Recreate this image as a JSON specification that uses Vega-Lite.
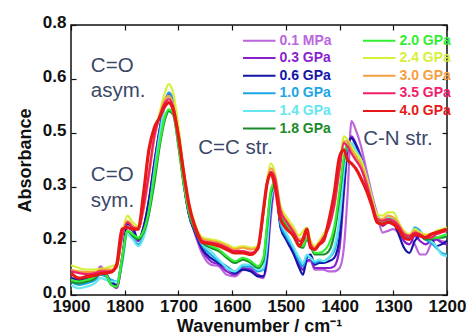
{
  "$schema": "https://vega.github.io/schema/vega-lite/v6.json",
  "width": 376,
  "height": 270,
  "autosize": "none",
  "padding": {"left": 71, "top": 25, "right": 19, "bottom": 41},
  "background": "white",
  "config": {
    "view": {"stroke": "#111111", "strokeWidth": 1.5},
    "font": "Liberation Sans",
    "axis": {
      "grid": false, "domain": false, "tickColor": "#111111", "tickSize": -5, "tickWidth": 1.2,
      "labelFlush": false, "labelOverlap": false, "labelBound": false,
      "labelFont": "Liberation Sans", "labelFontWeight": "bold", "labelFontSize": 17, "labelColor": "#111111",
      "titleFont": "Liberation Sans", "titleFontWeight": "bold", "titleFontSize": 18, "titleColor": "#111111"
    }
  },
  "data": {"values": [
    {"w":1900,"a":0.050,"b":0.045,"c":0.050,"d":0.040,"e":0.030,"f":0.040,"g":0.045,"h":0.088,"i":0.075,"j":0.070,"k":0.065},
    {"w":1885,"a":0.045,"b":0.040,"c":0.045,"d":0.030,"e":0.020,"f":0.035,"g":0.040,"h":0.080,"i":0.070,"j":0.065,"k":0.050},
    {"w":1870,"a":0.050,"b":0.045,"c":0.050,"d":0.035,"e":0.025,"f":0.040,"g":0.045,"h":0.075,"i":0.068,"j":0.062,"k":0.055},
    {"w":1855,"a":0.060,"b":0.055,"c":0.060,"d":0.045,"e":0.035,"f":0.050,"g":0.055,"h":0.075,"i":0.068,"j":0.065,"k":0.058},
    {"w":1845,"a":0.085,"b":0.080,"c":0.075,"d":0.060,"e":0.050,"f":0.070,"g":0.072,"h":0.078,"i":0.075,"j":0.070,"k":0.063},
    {"w":1835,"a":0.065,"b":0.065,"c":0.060,"d":0.055,"e":0.045,"f":0.060,"g":0.062,"h":0.080,"i":0.075,"j":0.070,"k":0.065},
    {"w":1825,"a":0.035,"b":0.035,"c":0.040,"d":0.045,"e":0.040,"f":0.030,"g":0.030,"h":0.085,"i":0.075,"j":0.070,"k":0.068},
    {"w":1815,"a":0.020,"b":0.022,"c":0.030,"d":0.040,"e":0.040,"f":0.025,"g":0.025,"h":0.090,"i":0.080,"j":0.085,"k":0.090},
    {"w":1805,"a":0.100,"b":0.100,"c":0.110,"d":0.100,"e":0.090,"f":0.100,"g":0.110,"h":0.180,"i":0.170,"j":0.170,"k":0.195},
    {"w":1795,"a":0.200,"b":0.200,"c":0.210,"d":0.190,"e":0.180,"f":0.190,"g":0.190,"h":0.235,"i":0.220,"j":0.215,"k":0.200},
    {"w":1785,"a":0.190,"b":0.190,"c":0.200,"d":0.170,"e":0.165,"f":0.175,"g":0.180,"h":0.215,"i":0.205,"j":0.200,"k":0.195},
    {"w":1775,"a":0.160,"b":0.160,"c":0.165,"d":0.150,"e":0.145,"f":0.165,"g":0.170,"h":0.205,"i":0.200,"j":0.195,"k":0.195},
    {"w":1765,"a":0.200,"b":0.200,"c":0.200,"d":0.175,"e":0.170,"f":0.185,"g":0.190,"h":0.260,"i":0.250,"j":0.260,"k":0.300},
    {"w":1755,"a":0.270,"b":0.280,"c":0.280,"d":0.250,"e":0.240,"f":0.240,"g":0.250,"h":0.360,"i":0.350,"j":0.360,"k":0.430},
    {"w":1745,"a":0.380,"b":0.390,"c":0.390,"d":0.370,"e":0.360,"f":0.330,"g":0.350,"h":0.470,"i":0.460,"j":0.470,"k":0.495},
    {"w":1735,"a":0.480,"b":0.490,"c":0.490,"d":0.480,"e":0.470,"f":0.440,"g":0.450,"h":0.540,"i":0.530,"j":0.530,"k":0.525},
    {"w":1725,"a":0.570,"b":0.570,"c":0.570,"d":0.570,"e":0.560,"f":0.520,"g":0.530,"h":0.600,"i":0.580,"j":0.570,"k":0.560},
    {"w":1718,"a":0.600,"b":0.595,"c":0.590,"d":0.600,"e":0.585,"f":0.545,"g":0.550,"h":0.625,"i":0.590,"j":0.580,"k":0.570},
    {"w":1710,"a":0.580,"b":0.575,"c":0.570,"d":0.575,"e":0.565,"f":0.535,"g":0.540,"h":0.600,"i":0.565,"j":0.560,"k":0.550},
    {"w":1700,"a":0.470,"b":0.470,"c":0.460,"d":0.465,"e":0.460,"f":0.440,"g":0.445,"h":0.500,"i":0.480,"j":0.475,"k":0.470},
    {"w":1690,"a":0.330,"b":0.330,"c":0.330,"d":0.335,"e":0.335,"f":0.325,"g":0.330,"h":0.370,"i":0.360,"j":0.360,"k":0.360},
    {"w":1680,"a":0.240,"b":0.235,"c":0.235,"d":0.240,"e":0.245,"f":0.240,"g":0.245,"h":0.270,"i":0.260,"j":0.260,"k":0.265},
    {"w":1670,"a":0.185,"b":0.190,"c":0.190,"d":0.195,"e":0.200,"f":0.195,"g":0.200,"h":0.215,"i":0.210,"j":0.210,"k":0.205},
    {"w":1655,"a":0.120,"b":0.130,"c":0.135,"d":0.145,"e":0.150,"f":0.155,"g":0.160,"h":0.170,"i":0.165,"j":0.160,"k":0.155},
    {"w":1640,"a":0.090,"b":0.100,"c":0.110,"d":0.120,"e":0.130,"f":0.140,"g":0.145,"h":0.165,"i":0.160,"j":0.155,"k":0.152},
    {"w":1625,"a":0.085,"b":0.090,"c":0.095,"d":0.100,"e":0.105,"f":0.130,"g":0.135,"h":0.160,"i":0.155,"j":0.150,"k":0.145},
    {"w":1610,"a":0.060,"b":0.070,"c":0.080,"d":0.085,"e":0.080,"f":0.110,"g":0.115,"h":0.150,"i":0.145,"j":0.140,"k":0.135},
    {"w":1595,"a":0.055,"b":0.060,"c":0.065,"d":0.070,"e":0.070,"f":0.095,"g":0.100,"h":0.140,"i":0.135,"j":0.130,"k":0.125},
    {"w":1580,"a":0.075,"b":0.080,"c":0.075,"d":0.085,"e":0.090,"f":0.105,"g":0.110,"h":0.145,"i":0.140,"j":0.130,"k":0.125},
    {"w":1565,"a":0.080,"b":0.075,"c":0.070,"d":0.085,"e":0.090,"f":0.095,"g":0.100,"h":0.140,"i":0.135,"j":0.125,"k":0.120},
    {"w":1552,"a":0.055,"b":0.060,"c":0.055,"d":0.070,"e":0.075,"f":0.080,"g":0.085,"h":0.145,"i":0.140,"j":0.135,"k":0.140},
    {"w":1542,"a":0.050,"b":0.055,"c":0.055,"d":0.075,"e":0.080,"f":0.100,"g":0.110,"h":0.250,"i":0.240,"j":0.240,"k":0.250},
    {"w":1535,"a":0.100,"b":0.110,"c":0.120,"d":0.140,"e":0.150,"f":0.200,"g":0.210,"h":0.340,"i":0.330,"j":0.330,"k":0.330},
    {"w":1528,"a":0.230,"b":0.250,"c":0.270,"d":0.280,"e":0.280,"f":0.300,"g":0.310,"h":0.390,"i":0.375,"j":0.365,"k":0.360},
    {"w":1520,"a":0.320,"b":0.325,"c":0.330,"d":0.325,"e":0.320,"f":0.325,"g":0.335,"h":0.360,"i":0.350,"j":0.345,"k":0.320},
    {"w":1510,"a":0.210,"b":0.210,"c":0.200,"d":0.210,"e":0.220,"f":0.240,"g":0.245,"h":0.265,"i":0.255,"j":0.250,"k":0.225},
    {"w":1498,"a":0.160,"b":0.165,"c":0.160,"d":0.170,"e":0.180,"f":0.205,"g":0.210,"h":0.230,"i":0.220,"j":0.215,"k":0.195},
    {"w":1485,"a":0.120,"b":0.125,"c":0.120,"d":0.135,"e":0.140,"f":0.170,"g":0.175,"h":0.200,"i":0.190,"j":0.185,"k":0.175},
    {"w":1475,"a":0.090,"b":0.090,"c":0.080,"d":0.100,"e":0.110,"f":0.145,"g":0.150,"h":0.175,"i":0.165,"j":0.160,"k":0.145},
    {"w":1468,"a":0.075,"b":0.075,"c":0.060,"d":0.085,"e":0.095,"f":0.140,"g":0.145,"h":0.190,"i":0.170,"j":0.160,"k":0.165},
    {"w":1461,"a":0.100,"b":0.100,"c":0.110,"d":0.115,"e":0.120,"f":0.165,"g":0.170,"h":0.200,"i":0.190,"j":0.185,"k":0.195},
    {"w":1454,"a":0.100,"b":0.105,"c":0.120,"d":0.110,"e":0.110,"f":0.145,"g":0.150,"h":0.160,"i":0.155,"j":0.150,"k":0.140},
    {"w":1446,"a":0.075,"b":0.080,"c":0.090,"d":0.095,"e":0.100,"f":0.120,"g":0.125,"h":0.145,"i":0.140,"j":0.135,"k":0.135},
    {"w":1438,"a":0.075,"b":0.080,"c":0.095,"d":0.100,"e":0.105,"f":0.120,"g":0.125,"h":0.160,"i":0.155,"j":0.150,"k":0.150},
    {"w":1430,"a":0.075,"b":0.080,"c":0.095,"d":0.100,"e":0.100,"f":0.120,"g":0.130,"h":0.180,"i":0.170,"j":0.170,"k":0.160},
    {"w":1420,"a":0.070,"b":0.080,"c":0.100,"d":0.110,"e":0.110,"f":0.130,"g":0.150,"h":0.210,"i":0.200,"j":0.200,"k":0.220},
    {"w":1410,"a":0.070,"b":0.085,"c":0.110,"d":0.130,"e":0.140,"f":0.180,"g":0.200,"h":0.270,"i":0.260,"j":0.265,"k":0.300},
    {"w":1400,"a":0.080,"b":0.140,"c":0.170,"d":0.220,"e":0.230,"f":0.290,"g":0.310,"h":0.380,"i":0.370,"j":0.375,"k":0.410},
    {"w":1392,"a":0.140,"b":0.300,"c":0.320,"d":0.360,"e":0.370,"f":0.400,"g":0.410,"h":0.470,"i":0.455,"j":0.450,"k":0.430},
    {"w":1385,"a":0.300,"b":0.430,"c":0.440,"d":0.440,"e":0.445,"f":0.440,"g":0.450,"h":0.460,"i":0.455,"j":0.440,"k":0.400},
    {"w":1378,"a":0.515,"b":0.470,"c":0.465,"d":0.450,"e":0.450,"f":0.430,"g":0.430,"h":0.440,"i":0.430,"j":0.420,"k":0.390},
    {"w":1370,"a":0.490,"b":0.450,"c":0.445,"d":0.430,"e":0.430,"f":0.410,"g":0.410,"h":0.420,"i":0.410,"j":0.400,"k":0.375},
    {"w":1360,"a":0.440,"b":0.410,"c":0.400,"d":0.400,"e":0.400,"f":0.380,"g":0.380,"h":0.400,"i":0.385,"j":0.375,"k":0.345},
    {"w":1350,"a":0.370,"b":0.350,"c":0.345,"d":0.350,"e":0.350,"f":0.330,"g":0.335,"h":0.350,"i":0.340,"j":0.330,"k":0.310},
    {"w":1340,"a":0.300,"b":0.290,"c":0.280,"d":0.290,"e":0.290,"f":0.270,"g":0.275,"h":0.290,"i":0.280,"j":0.275,"k":0.265},
    {"w":1330,"a":0.240,"b":0.235,"c":0.225,"d":0.235,"e":0.235,"f":0.220,"g":0.225,"h":0.240,"i":0.230,"j":0.225,"k":0.215},
    {"w":1320,"a":0.185,"b":0.205,"c":0.210,"d":0.220,"e":0.220,"f":0.210,"g":0.215,"h":0.235,"i":0.225,"j":0.220,"k":0.210},
    {"w":1310,"a":0.190,"b":0.215,"c":0.220,"d":0.225,"e":0.230,"f":0.215,"g":0.225,"h":0.245,"i":0.235,"j":0.225,"k":0.215},
    {"w":1300,"a":0.195,"b":0.210,"c":0.215,"d":0.220,"e":0.225,"f":0.210,"g":0.220,"h":0.245,"i":0.230,"j":0.220,"k":0.210},
    {"w":1290,"a":0.185,"b":0.190,"c":0.180,"d":0.200,"e":0.205,"f":0.195,"g":0.200,"h":0.215,"i":0.210,"j":0.205,"k":0.195},
    {"w":1280,"a":0.170,"b":0.160,"c":0.140,"d":0.175,"e":0.180,"f":0.180,"g":0.180,"h":0.190,"i":0.185,"j":0.180,"k":0.170},
    {"w":1270,"a":0.170,"b":0.150,"c":0.125,"d":0.170,"e":0.175,"f":0.175,"g":0.175,"h":0.180,"i":0.175,"j":0.175,"k":0.165},
    {"w":1260,"a":0.150,"b":0.175,"c":0.160,"d":0.200,"e":0.195,"f":0.190,"g":0.185,"h":0.195,"i":0.190,"j":0.185,"k":0.180},
    {"w":1250,"a":0.120,"b":0.160,"c":0.175,"d":0.190,"e":0.185,"f":0.180,"g":0.180,"h":0.185,"i":0.180,"j":0.180,"k":0.175},
    {"w":1240,"a":0.120,"b":0.150,"c":0.165,"d":0.165,"e":0.170,"f":0.165,"g":0.170,"h":0.180,"i":0.175,"j":0.170,"k":0.170},
    {"w":1230,"a":0.150,"b":0.160,"c":0.165,"d":0.155,"e":0.160,"f":0.165,"g":0.170,"h":0.180,"i":0.175,"j":0.170,"k":0.180},
    {"w":1220,"a":0.165,"b":0.165,"c":0.145,"d":0.140,"e":0.145,"f":0.170,"g":0.170,"h":0.190,"i":0.185,"j":0.180,"k":0.185},
    {"w":1210,"a":0.160,"b":0.155,"c":0.150,"d":0.125,"e":0.120,"f":0.170,"g":0.175,"h":0.195,"i":0.190,"j":0.185,"k":0.190},
    {"w":1200,"a":0.155,"b":0.150,"c":0.160,"d":0.120,"e":0.115,"f":0.175,"g":0.180,"h":0.200,"i":0.195,"j":0.190,"k":0.195}
  ]},
  "layer": [
    {
      "transform": [
        {"fold": ["a","b","c","d","e","f","g","h","i","j","k"], "as": ["key","abs"]},
        {"filter": "datum.key !== 'k'"}
      ],
      "mark": {"type": "line", "interpolate": "monotone", "strokeWidth": 2.2, "clip": true},
      "encoding": {
        "x": {"field": "w", "type": "quantitative", "scale": {"domain": [1200, 1900], "reverse": true, "nice": false, "zero": false},
              "axis": {"orient": "bottom", "values": [1900,1800,1700,1600,1500,1400,1300,1200], "format": "d", "labelPadding": 8, "title": "Wavenumber / cm\u207b\u00b9", "titlePadding": 3}},
        "y": {"field": "abs", "type": "quantitative", "scale": {"domain": [0, 0.8], "nice": false, "zero": false},
              "axis": {"orient": "left", "values": [0,0.16,0.32,0.48,0.64,0.8], "format": ".1f", "labelPadding": 10, "labelOffset": -3, "title": "Absorbance", "titlePadding": 8}},
        "color": {"field": "key", "type": "nominal",
          "scale": {"domain": ["a","b","c","d","e","f","g","h","i","j","k"],
                    "range": ["#bb66dd","#8a1fd0","#1414a8","#1aa6e6","#66e6f0","#1a8a2a","#33ee33","#d6f03a","#f5a040","#f0206a","#e81818"]},
          "legend": {"orient": "none", "legendX": 180.75, "legendY": 8, "columns": 2, "title": null, "padding": 0,
                     "symbolType": "M-2.5,0H2.5", "symbolSize": 169, "symbolStrokeWidth": 2,
                     "labelFont": "Liberation Sans", "labelFontWeight": "bold", "labelFontSize": 14, "labelOffset": 12.75,
                     "columnPadding": 27, "rowPadding": 2.6,
                     "labelExpr": "['0.1 MPa','0.3 GPa','0.6 GPa','1.0 GPa','1.4 GPa','1.8 GPa','2.0 GPa','2.4 GPa','3.0 GPa','3.5 GPa','4.0 GPa'][indexof('abcdefghijk', datum.value)]",
                     "encode": {"labels": {"update": {"fill": {"scale": "color", "field": "value"}}}}}}
      }
    },
    {
      "transform": [
        {"fold": ["a","b","c","d","e","f","g","h","i","j","k"], "as": ["key","abs"]},
        {"filter": "datum.key === 'k'"}
      ],
      "mark": {"type": "line", "interpolate": "monotone", "strokeWidth": 3.2, "clip": true},
      "encoding": {
        "x": {"field": "w", "type": "quantitative", "scale": {"domain": [1200, 1900], "reverse": true, "nice": false, "zero": false}, "axis": null},
        "y": {"field": "abs", "type": "quantitative", "scale": {"domain": [0, 0.8], "nice": false, "zero": false}, "axis": null},
        "color": {"field": "key", "type": "nominal"}
      }
    },
    {
      "data": {"values": [
        {"t": "C=O", "w": 1863, "abs": 0.68},
        {"t": "asym.", "w": 1863, "abs": 0.605},
        {"t": "C=O", "w": 1863, "abs": 0.355},
        {"t": "sym.", "w": 1863, "abs": 0.28},
        {"t": "C=C str.", "w": 1663, "abs": 0.436},
        {"t": "C-N str.", "w": 1356, "abs": 0.463}
      ]},
      "mark": {"type": "text", "align": "left", "baseline": "middle", "font": "Liberation Sans", "fontSize": 20.5, "color": "#3a4868"},
      "encoding": {
        "x": {"field": "w", "type": "quantitative", "scale": {"domain": [1200, 1900], "reverse": true, "nice": false, "zero": false},
              "axis": {"orient": "top", "values": [1900,1800,1700,1600,1500,1400,1300,1200], "labels": false, "title": null}},
        "y": {"field": "abs", "type": "quantitative", "scale": {"domain": [0, 0.8], "nice": false, "zero": false},
              "axis": {"orient": "right", "values": [0,0.16,0.32,0.48,0.64,0.8], "labels": false, "title": null}},
        "text": {"field": "t"}
      }
    }
  ],
  "resolve": {"axis": {"x": "independent", "y": "independent"}}
}
